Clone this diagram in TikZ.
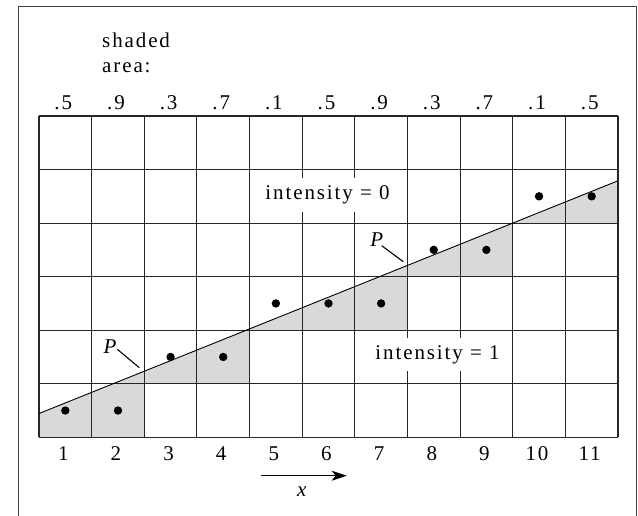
\documentclass[tikz,border=0pt]{standalone}
\usepackage{fontspec}
\setmainfont{Liberation Serif}[LetterSpace=9]
\usetikzlibrary{arrows.meta}
\begin{document}
\begin{tikzpicture}[x=52.636pt,y=53.55pt,
  txt/.style={font=\fontsize{21}{25}\selectfont, inner sep=0pt},
  gridline/.style={line width=1.1pt, draw=black!85},
  frameline/.style={line width=1pt, draw=black!75},
  shade/.style={fill=black!15},
  dotmark/.style={fill=black},
  intens/.style={txt, fill=white, inner xsep=4pt, inner ysep=7.5pt},
  pointer/.style={line width=1.1pt},
  refline/.style={line width=0.9pt}]
\useasboundingbox (-39pt,-77.7pt) rectangle (599pt,437.3pt);
% frame (open at the bottom)
\draw[frameline] (-20pt,-80pt) -- (-20pt,430.3pt) -- (597pt,430.3pt) -- (597pt,-80pt);
% shaded areas
\foreach \k/\r in {0/0,1/0,2/1,3/1,4/2,5/2,6/2,7/3,8/3,9/4,10/4}{
  \pgfmathsetmacro\ya{0.444+0.3951*\k}
  \pgfmathsetmacro\yb{0.444+0.3951*(\k+1)}
  \fill[shade] (\k,\r) -- (\k,\ya) -- (\k+1,\yb) -- (\k+1,\r) -- cycle;
}
% grid
\foreach \i in {0,...,11}{ \draw[gridline] (\i,0) -- (\i,6); }
\foreach \j in {0,...,6}{ \draw[gridline] (0,\j) -- (11,\j); }
% reference line
\coordinate (L0) at (0,0.444);
\coordinate (L1) at (11,4.790);
\draw[refline] (L0) -- (L1);
% pixel centres
\foreach \k/\r in {0/0,1/0,2/1,3/1,4/2,5/2,6/2,7/3,8/3,9/4,10/4}{
  \fill[dotmark] (\k+0.5,\r+0.5) circle (4.2pt);
}
% intensity labels
\node[intens] (i0) at (288.5pt,242.3pt) {intensity = 0};
\node[intens] (i1) at (398.5pt,82.8pt) {intensity = 1};
% P labels
\node[txt] (P1) at (71pt,90.6pt) {\itshape P};
\coordinate (P1e) at (100.3pt,69.6pt);
\draw[pointer] (78.3pt,88pt) -- (P1e);
\node[txt] (P2) at (337.7pt,197.3pt) {\itshape P};
\coordinate (P2e) at (364.3pt,175.6pt);
\draw[pointer] (342.7pt,191.6pt) -- (P2e);
% header
\node[txt, anchor=north west, align=left] (hdr) at (63pt,404.6pt) {shaded\\area:};
% top values
\foreach \k/\v in {0/.5,1/.9,2/.3,3/.7,4/.1,5/.5,6/.9,7/.3,8/.7,9/.1,10/.5}{
  \node[txt, anchor=base, xshift=-2pt] (t\k) at (\k+0.5,327.3pt) {\v};
}
% bottom indices
\foreach \k in {1,...,11}{
  \node[txt, anchor=base, xshift=-2pt] (b\k) at (\k-0.5,-22.7pt) {\k};
}
% x arrow
\coordinate (xa) at (221.7pt,-38.4pt);
\coordinate (xb) at (307.7pt,-38.4pt);
\draw[line width=1.1pt, -{Stealth[length=15pt,width=10pt,inset=4pt]}] (xa) -- (xb);
\node[txt] (xl) at (262.7pt,-54.4pt) {\itshape x};
\end{tikzpicture}
\end{document}
